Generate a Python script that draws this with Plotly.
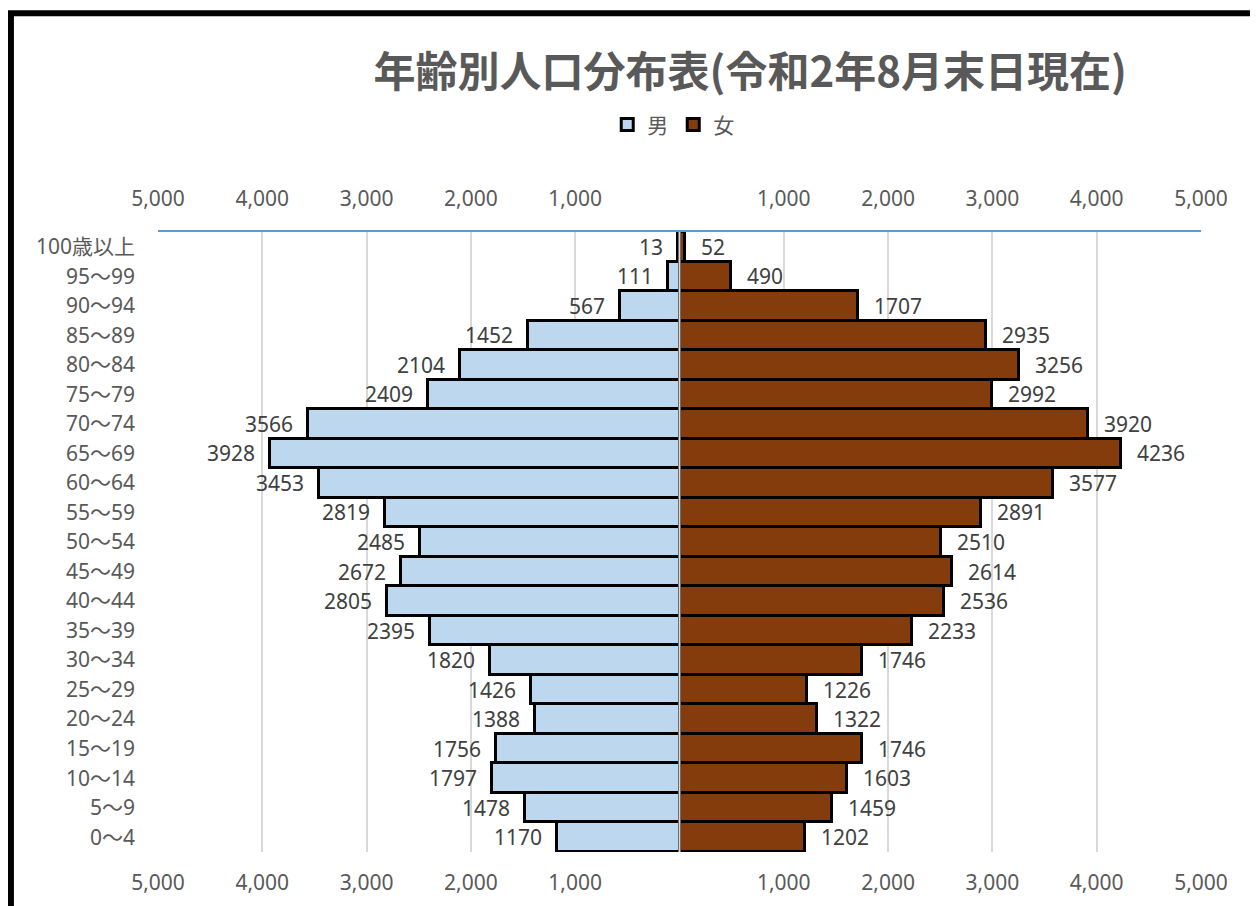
import plotly.graph_objects as go

ages = ["0～4", "5～9", "10～14", "15～19", "20～24", "25～29", "30～34", "35～39",
        "40～44", "45～49", "50～54", "55～59", "60～64", "65～69", "70～74", "75～79",
        "80～84", "85～89", "90～94", "95～99", "100歳以上"]
male = [1170, 1478, 1797, 1756, 1388, 1426, 1820, 2395, 2805, 2672, 2485, 2819,
        3453, 3928, 3566, 2409, 2104, 1452, 567, 111, 13]
female = [1202, 1459, 1603, 1746, 1322, 1226, 1746, 2233, 2536, 2614, 2510, 2891,
          3577, 4236, 3920, 2992, 3256, 2935, 1707, 490, 52]
tick_vals = [-5000, -4000, -3000, -2000, -1000, 0, 1000, 2000, 3000, 4000, 5000]
tick_text = ["5,000", "4,000", "3,000", "2,000", "1,000", "", "1,000", "2,000", "3,000", "4,000", "5,000"]

FONT = "Noto Sans, Noto Sans CJK JP"
GRAY = "#595959"
FS = 21

fig = go.Figure()
fig.add_trace(go.Bar(
    y=ages, x=[-v for v in male], orientation="h", name="男",
    marker=dict(color="#BDD7EE", line=dict(color="black", width=3)),
))
fig.add_trace(go.Bar(
    y=ages, x=female, orientation="h", name="女",
    marker=dict(color="#843C0C", line=dict(color="black", width=3)),
))
# invisible trace to anchor the top axis
fig.add_trace(go.Scatter(x=[-v for v in male], y=ages, xaxis="x2", mode="markers",
                         marker=dict(opacity=0), showlegend=False, hoverinfo="skip"))

annotations = []
for a, m, f in zip(ages, male, female):
    annotations.append(dict(x=-m, y=a, text=str(m), showarrow=False, xanchor="right",
                            xshift=-13, font=dict(size=FS, color="#404040", family=FONT)))
    annotations.append(dict(x=f, y=a, text=str(f), showarrow=False, xanchor="left",
                            xshift=14, font=dict(size=FS, color="#404040", family=FONT)))

fig.update_layout(
    width=1258, height=906,
    margin=dict(l=150, r=65, t=224, b=62),
    paper_bgcolor="white", plot_bgcolor="white",
    barmode="overlay", bargap=0,
    font=dict(family=FONT, color=GRAY, size=FS),
    title=dict(text="<b>年齢別人口分布表(令和2年8月末日現在)</b>", x=0.59, xanchor="center",
               y=0.929, yanchor="middle", xref="container", yref="container",
               font=dict(size=42, color=GRAY, family="Noto Sans CJK JP")),
    legend=dict(orientation="h", x=0.494, xanchor="center", y=0.871, yanchor="middle",
                yref="container", font=dict(size=FS, color=GRAY), itemwidth=30,
                traceorder="normal"),
    xaxis=dict(range=[-5000, 5000], tickvals=tick_vals, ticktext=tick_text,
               showgrid=True, gridcolor="#D9D9D9", gridwidth=1.5, zeroline=False,
               showline=False, ticks="", ticklabelstandoff=16,
               tickfont=dict(size=FS, color=GRAY)),
    xaxis2=dict(range=[-5000, 5000], tickvals=tick_vals, ticktext=tick_text,
                overlaying="x", side="top", showgrid=False, zeroline=False,
                showline=True, linecolor="#5B9BD5", linewidth=2, ticks="",
                ticklabelstandoff=16, tickfont=dict(size=FS, color=GRAY)),
    yaxis=dict(range=[-0.5, 20.5], showgrid=False, zeroline=False, ticks="",
               ticklabelstandoff=22, tickfont=dict(size=FS, color=GRAY)),
    annotations=annotations,
    shapes=[
        dict(type="line", xref="x", yref="paper", x0=0, x1=0, y0=0, y1=1,
             line=dict(color="#D9D9D9", width=2), layer="above"),
        dict(type="rect", xref="paper", yref="paper", x0=-0.141, x1=1.2, y0=-0.3, y1=1.353,
             line=dict(color="black", width=6), layer="above"),
    ],
)

fig.write_html("out.html")
